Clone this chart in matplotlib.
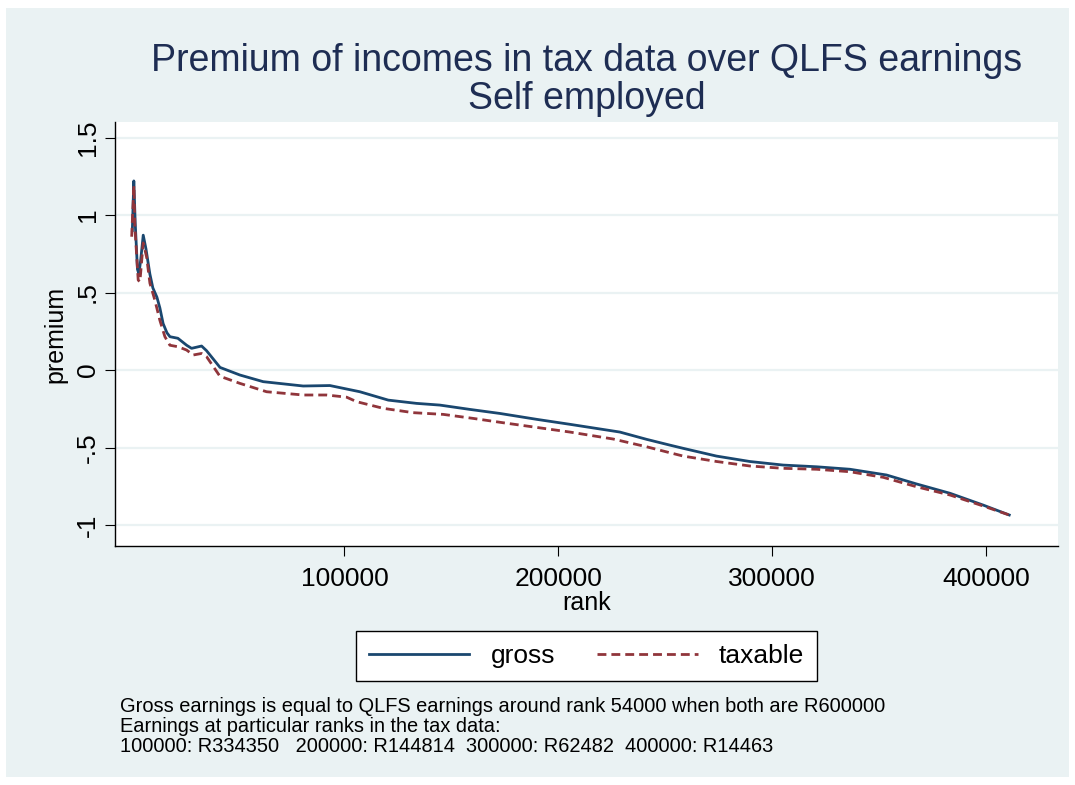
import numpy as np
import matplotlib
matplotlib.use("Agg")
import matplotlib.pyplot as plt
from matplotlib.patches import Rectangle

# =================================================================================
# data read off the picture ...
# =================================================================================

gross_rank = [800, 1500, 2150, 3200, 3900, 4800, 5900, 7200, 9000, 10400, 12300,
              13700, 15200, 17000, 18400, 22100, 26200, 28500, 33200, 35500, 41800,
              51100, 62000, 80700, 93200, 107200, 120500, 133700, 144600, 158700,
              172700, 189900, 205400, 228800, 241300, 252100, 258400, 274000,
              289600, 305200, 320800, 336400, 353500, 367600, 383200, 398700, 410900]
gross_premium = [0.90, 1.22, 0.95, 0.65, 0.62, 0.72, 0.87, 0.78, 0.62, 0.53, 0.47,
                 0.40, 0.30, 0.24, 0.215, 0.205, 0.16, 0.14, 0.155, 0.125, 0.017,
                 -0.032, -0.075, -0.103, -0.100, -0.14, -0.194, -0.215, -0.226, -0.254,
                 -0.28, -0.318, -0.35, -0.40, -0.447, -0.484, -0.505, -0.555,
                 -0.59, -0.613, -0.624, -0.64, -0.677, -0.735, -0.795, -0.871, -0.935]

taxable_rank = [500, 1540, 2010, 3550, 4350, 5890, 7480, 9030, 11360, 13700, 16040,
                18380, 22260, 26190, 29280, 33200, 35540, 41760, 51110, 63600, 80720,
                91660, 101000, 105700, 118130, 132160, 146190, 160220, 174250,
                189870, 205450, 225690, 241310, 252070, 258430, 274050, 289630,
                305200, 320820, 336400, 351970, 367590, 383160, 398730, 410890]
taxable_premium = [0.86, 1.19, 0.92, 0.58, 0.57, 0.82, 0.73, 0.56, 0.45, 0.32, 0.215,
                   0.16, 0.15, 0.129, 0.097, 0.107, 0.086, -0.04, -0.086, -0.14, -0.161,
                   -0.161, -0.175, -0.204, -0.247, -0.275, -0.286, -0.312, -0.34,
                   -0.37, -0.40, -0.445, -0.495, -0.533, -0.555, -0.59, -0.619,
                   -0.634, -0.64, -0.656, -0.692, -0.753, -0.806, -0.877, -0.935]

x_ticks = [100000, 200000, 300000, 400000]
y_ticks = [-1, -0.5, 0, 0.5, 1, 1.5]
y_tick_labels = ["-1", "-.5", "0", ".5", "1", "1.5"]

title_text = "Premium of incomes in tax data over QLFS earnings\nSelf employed"
note_lines = ["Gross earnings is equal to QLFS earnings around rank 54000 when both are R600000",
              "Earnings at particular ranks in the tax data:",
              "100000: R334350   200000: R144814  300000: R62482  400000: R14463"]

# =================================================================================
# figure ...
# =================================================================================

plt.rcParams['font.family'] = ['Liberation Sans', 'DejaVu Sans']
W, H = 1075, 785
bg = "#EAF2F3"

fig = plt.figure(figsize=(W / 100, H / 100), dpi=100, facecolor="white")
fig.patches.append(Rectangle((6 / W, 8 / H), 1063 / W, 769 / H,
                             transform=fig.transFigure, facecolor=bg,
                             edgecolor="none", zorder=-10))

ax = fig.add_axes([115 / W, 1 - 546 / H, 943 / W, 424 / H])
ax.set_facecolor("white")

ax.plot(gross_rank, gross_premium, color="#1A476F", lw=2.0, label="gross",
        solid_joinstyle="round")
ax.plot(taxable_rank, taxable_premium, color="#90353B", lw=2.0, label="taxable",
        dashes=(3.2, 1.8))

ax.set_xlim(-7300, 433700)
ax.set_ylim(-1.135, 1.6)
ax.set_xticks(x_ticks)
ax.set_xticklabels([str(t) for t in x_ticks])
ax.set_yticks(y_ticks)
ax.set_yticklabels(y_tick_labels, rotation=90, va="center")

ax.grid(axis="y", color=bg, lw=1.6)
ax.set_axisbelow(True)
for s in ["top", "right"]:
    ax.spines[s].set_visible(False)
for s in ["left", "bottom"]:
    ax.spines[s].set_color("black")
    ax.spines[s].set_linewidth(1.0)

ax.tick_params(axis="both", direction="out", length=7, width=0.8,
               labelsize=19, colors="black")
ax.tick_params(axis="x", pad=8)
ax.tick_params(axis="y", pad=4)

ax.set_xlabel("rank", fontsize=18, labelpad=0)
ax.set_ylabel("premium", fontsize=18, labelpad=6)

fig.text(587 / W, 1 - 80 / H, title_text, ha="center", va="center",
         fontsize=27, color="#1E2D53", linespacing=1.1)

leg = fig.legend(loc="center", bbox_to_anchor=(586.5 / W, 1 - 656 / H), ncol=2,
                 fontsize=19, frameon=True, fancybox=False, edgecolor="black",
                 framealpha=1, handlelength=3.8, columnspacing=1.6,
                 handletextpad=0.8, borderpad=0.5)
leg.get_frame().set_linewidth(1.0)

for i, line in enumerate(note_lines):
    fig.text(120 / W, 1 - (706 + 20.5 * i) / H, line, ha="left", va="center",
             fontsize=14.4, color="black")

fig.savefig("out.png", dpi=100, facecolor=fig.get_facecolor())
